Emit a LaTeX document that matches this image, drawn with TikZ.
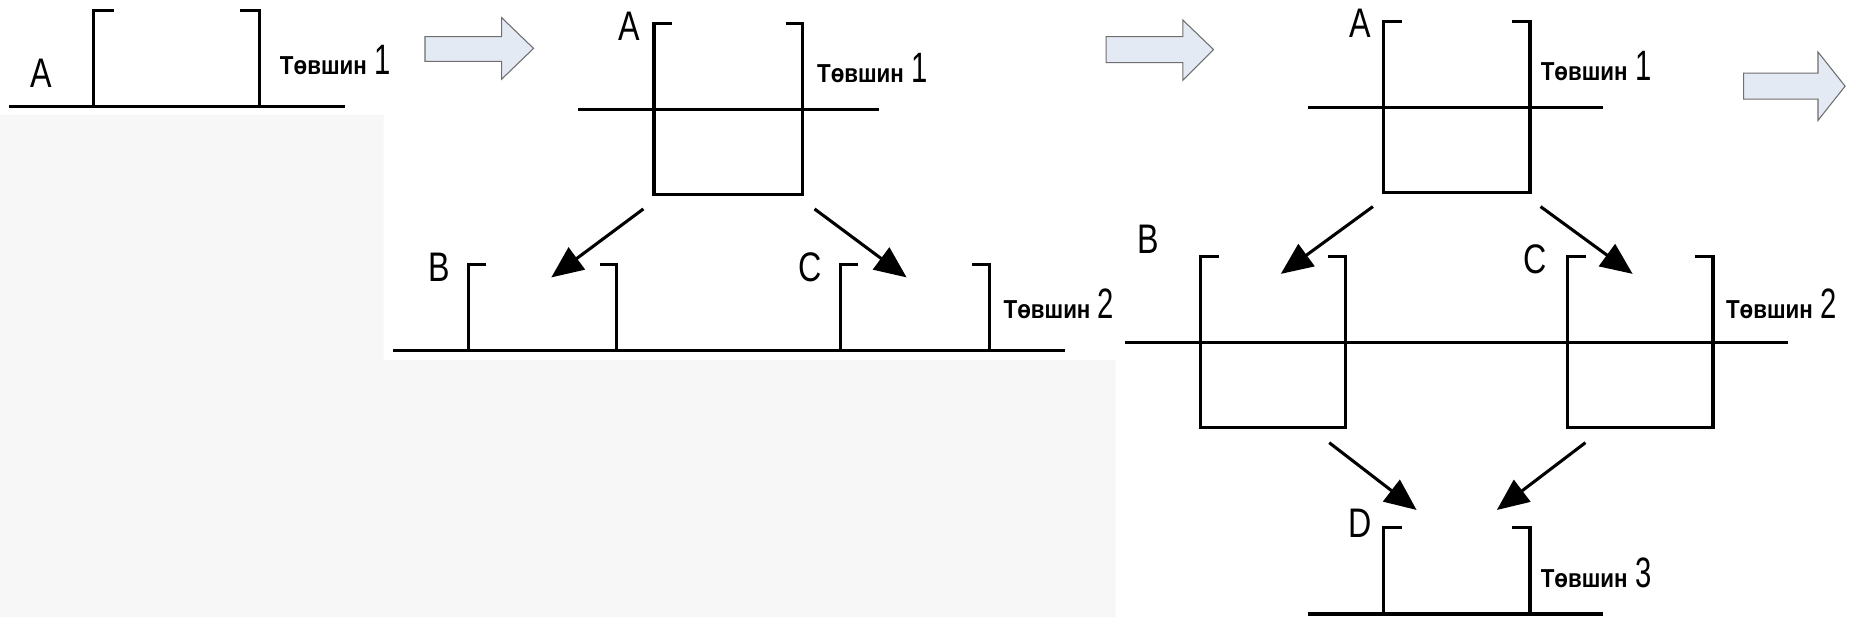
\documentclass[tikz,border=0pt]{standalone}
\usepackage{fontspec}
\setmainfont{Liberation Sans}
\usetikzlibrary{arrows.meta}
\definecolor{bgray}{RGB}{247,247,247}
\definecolor{arrfill}{RGB}{228,234,244}
\definecolor{arrline}{RGB}{110,110,110}
\tikzset{
  wall/.style={line width=2.8pt, line cap=rect, line join=miter},
  level/.style={line width=2.8pt},
  flow/.style={line width=2.6pt, -{Triangle[length=27pt,width=23pt]}},
  letter/.style={inner sep=0pt, xscale=0.78, font=\fontsize{35}{35}\selectfont},
  lvl/.style={inner sep=0pt, anchor=base west, xscale=0.86},
  blockarrow/.style={fill=arrfill, draw=arrline, line width=0.9pt, line join=miter}
}
\newcommand{\lvltext}[1]{\fontsize{22}{22}\selectfont\bfseries Төвшин\,\,{\fontsize{36}{36}\selectfont\mdseries\scalebox{0.8}[1]{#1}}}
\begin{document}
\begin{tikzpicture}[x=1pt,y=-1pt]
\useasboundingbox (0,0) rectangle (1568,522.7);
\fill[white] (0,0) rectangle (1568,522.7);
\fill[bgray] (0,97) -- (325,97) -- (325,305) -- (945,305) -- (945,522.7) -- (0,522.7) -- cycle;

% ---------- panel 1 ----------
\draw[level] (8,90) -- (292,90);
\draw[wall] (95,9) -- (79,9) -- (79,90);
\draw[wall] (205,9) -- (220,9) -- (220,90);
\node[letter] (pA1) at (35,62) {A};
\node[lvl] (pL1) at (237,63) {\lvltext{1}};

% block arrow 1
\draw[blockarrow] (360,31) -- (425,31) -- (425,15) -- (452,41) -- (425,67) -- (425,52) -- (360,52) -- cycle;

% ---------- panel 2 ----------
\draw[level] (490,93) -- (745,93);
\draw[wall] (568,20) -- (554,20) -- (554,165) -- (680,165) -- (680,20) -- (667,20);
\node[letter] (qA) at (533,22) {A};
\node[lvl] (qL1) at (692,70) {\lvltext{1}};
\coordinate (qa1) at (545,177); \coordinate (qb1) at (467,235);
\coordinate (qa2) at (690,177); \coordinate (qc1) at (768,235);
\draw[flow] (qa1) -- (qb1);
\draw[flow] (qa2) -- (qc1);
\draw[level] (333,297) -- (902,297);
\draw[wall] (410,224) -- (397,224) -- (397,297);
\draw[wall] (510,224) -- (522,224) -- (522,297);
\draw[wall] (725,224) -- (712,224) -- (712,297);
\draw[wall] (825,224) -- (838,224) -- (838,297);
\node[letter] (qB) at (372,226) {B};
\node[letter] (qC) at (686,226) {C};
\node[lvl] (qL2) at (850,270) {\lvltext{2}};

% block arrow 2
\draw[blockarrow] (937,31) -- (1002,31) -- (1002,17) -- (1028,42) -- (1002,68) -- (1002,53) -- (937,53) -- cycle;

% ---------- panel 3 ----------
\draw[level] (1108,91) -- (1358,91);
\draw[wall] (1186,18) -- (1172,18) -- (1172,163) -- (1296,163) -- (1296,18) -- (1282,18);
\node[letter] (rA) at (1152,20) {A};
\node[lvl] (rL1) at (1305,68) {\lvltext{1}};
\coordinate (ra1) at (1163,175); \coordinate (rb1) at (1085,232);
\coordinate (ra2) at (1305,175); \coordinate (rc1) at (1383,232);
\draw[flow] (ra1) -- (rb1);
\draw[flow] (ra2) -- (rc1);

\draw[level] (953,290) -- (1515,290);
\draw[wall] (1031,217) -- (1017,217) -- (1017,362) -- (1140,362) -- (1140,217) -- (1126,217);
\draw[wall] (1342,217) -- (1328,217) -- (1328,362) -- (1451,362) -- (1451,217) -- (1437,217);
\node[letter] (rB) at (973,203) {B};
\node[letter] (rC) at (1300,220) {C};
\node[lvl] (rL2) at (1462,270) {\lvltext{2}};

\coordinate (rb2) at (1126,375); \coordinate (rd1) at (1200,432);
\coordinate (rc2) at (1343,375); \coordinate (rd2) at (1268,432);
\draw[flow] (rb2) -- (rd1);
\draw[flow] (rc2) -- (rd2);

\draw[level] (1108,520) -- (1358,520);
\draw[wall] (1186,447) -- (1172,447) -- (1172,520);
\draw[wall] (1282,447) -- (1296,447) -- (1296,520);
\node[letter] (rD) at (1152,443) {D};
\node[lvl] (rL3) at (1305,498) {\lvltext{3}};

% block arrow 3
\draw[blockarrow] (1477,62) -- (1540,62) -- (1540,44) -- (1563,73) -- (1540,102) -- (1540,84) -- (1477,84) -- cycle;
\end{tikzpicture}
\end{document}
